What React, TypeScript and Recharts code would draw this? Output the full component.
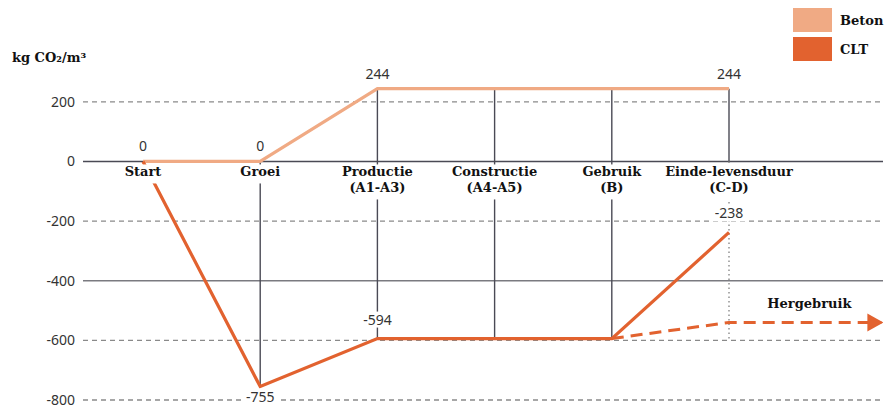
import { LineChart, Line, XAxis, YAxis, CartesianGrid, ReferenceLine, LabelList } from 'recharts';

// life-cycle stages along the horizontal axis
const stages = ['Start', 'Groei', 'Productie', 'Constructie', 'Gebruik', 'Einde-levensduur'];
const stageCodes = ['', '', '(A1-A3)', '(A4-A5)', '(B)', '(C-D)'];

// kg CO2 per m3 at each stage
const betonValues = [0, 0, 244, 244, 244, 244];
const cltValues = [0, -755, -594, -594, -594, -238];

// stages where the value is printed
const betonLabelled = [0, 1, 2, 5];
const cltLabelled = [1, 2, 5];

// reuse scenario: branches off after Gebruik and runs out past the last stage
const reuseSteps = [4, 5, 6.3];
const reuseValues = [-594, -540, -540];

const yTicks = [200, 0, -200, -400, -600, -800];
// dashed guides; 0 and -400 get solid rules instead
const dashedTicks = [200, -200, -600, -800];

const BETON = '#F0AA84';
const CLT = '#E2622F';
const INK = '#333333';
const RULE = '#4a4a55';
const SLAB = "'DejaVu Serif', serif";
const SANS = "'Noto Sans', sans-serif";

const series = [
  { name: 'Beton', color: BETON },
  { name: 'CLT', color: CLT },
];

const stageData = stages.map((name, i) => ({ x: i, base: 0, name }));
const betonData = stages.map((_, i) => ({ x: i, beton: betonValues[i] }));
const cltData = stages.map((_, i) => ({ x: i, clt: cltValues[i] }));
const reuseData = reuseSteps.map((x, i) => ({ x, reuse: reuseValues[i] }));

function valueTag(x: number, y: number, text: string, key?: string) {
  const w = text.length * 8.2 + 4;
  return (
    <g key={key}>
      <rect x={x - w / 2} y={y - 13} width={w} height={16} fill="#fff" />
      <text x={x} y={y} textAnchor="middle" fontFamily={SANS} fontSize={14} fill={INK}>
        {text}
      </text>
    </g>
  );
}

const renderStage = (props: any) => {
  const { x, y, index } = props;
  const lines = stageCodes[index] ? [stages[index], stageCodes[index]] : [stages[index]];
  const w = Math.max(...lines.map((t) => t.length)) * 8.6 + 4;
  return (
    <g>
      <rect x={x - w / 2} y={y + 3} width={w} height={lines.length * 16 + 3} fill="#fff" />
      {lines.map((t, k) => (
        <text key={k} x={x} y={y + 15 + k * 16} textAnchor="middle" fontFamily={SLAB} fontWeight="bold" fontSize={13} fill="#111">
          {t}
        </text>
      ))}
    </g>
  );
};

const renderBetonValue = (props: any) => {
  const { x, y, index } = props;
  if (!betonLabelled.includes(index)) return <g />;
  return valueTag(x, y - 10, String(betonValues[index]));
};

const renderCltValue = (props: any) => {
  const { x, y, index } = props;
  if (!cltLabelled.includes(index)) return <g />;
  const below = cltValues[index] < cltValues[index - 1] && cltValues[index] < cltValues[index + 1];
  return valueTag(x, below ? y + 15 : y - 14, String(cltValues[index]));
};

const renderReuseLabel = (props: any) => {
  const { x, y, index } = props;
  if (index !== reuseSteps.length - 1) return <g />;
  return (
    <text x={x - 72} y={y - 14} textAnchor="middle" fontFamily={SLAB} fontWeight="bold" fontSize={13} fill="#111">
      Hergebruik
    </text>
  );
};

const renderArrow = (props: any) => {
  const { cx, cy, index } = props;
  if (index !== reuseSteps.length - 1) return <g key={`a${index}`} />;
  return <polygon key="arrow" points={`${cx + 2},${cy} ${cx - 14},${cy - 9} ${cx - 14},${cy + 9}`} fill={CLT} />;
};

export default function App() {
  return (
    <div style={{ position: 'absolute', left: 0, top: 0, width: 885, height: 412, background: '#fff' }}>
      <div style={{ position: 'absolute', left: 12, top: 50, fontFamily: SLAB, fontWeight: 'bold', fontSize: 13, color: '#111' }}>
        kg CO₂/m³
      </div>
      <div style={{ position: 'absolute', left: 793, top: 8 }}>
        {series.map((s) => (
          <div key={s.name} style={{ display: 'flex', alignItems: 'center', height: 24, marginBottom: 5 }}>
            <div style={{ width: 39, height: 24, background: s.color }} />
            <span style={{ marginLeft: 8, fontFamily: SLAB, fontWeight: 'bold', fontSize: 13, color: '#111' }}>{s.name}</span>
          </div>
        ))}
      </div>
      <LineChart width={885} height={412} margin={{ top: 72, right: 2, bottom: 12, left: 0 }}>
        <CartesianGrid vertical={false} horizontalValues={dashedTicks} stroke="#8a8a8a" strokeDasharray="5 4" strokeWidth={1.3} />
        <XAxis dataKey="x" type="number" domain={[-0.512, 6.314]} allowDataOverflow hide />
        <YAxis
          type="number"
          domain={[-800, 300]}
          ticks={yTicks}
          width={83}
          axisLine={false}
          tickLine={false}
          tick={{ fill: INK, fontSize: 14, fontFamily: SANS }}
        />
        <ReferenceLine y={0} stroke={RULE} strokeWidth={1.6} />
        <ReferenceLine y={-400} stroke="#7a7a80" strokeWidth={1.4} />
        {stages.map((s, i) =>
          i === 0 ? null : (
            <ReferenceLine
              key={s}
              segment={[
                { x: i, y: betonValues[i] },
                { x: i, y: i === stages.length - 1 ? 0 : cltValues[i] },
              ]}
              stroke={RULE}
              strokeWidth={1.4}
            />
          )
        )}
        <ReferenceLine
          segment={[
            { x: stages.length - 1, y: 0 },
            { x: stages.length - 1, y: reuseValues[0] },
          ]}
          stroke="#8a8a8a"
          strokeWidth={1.4}
          strokeDasharray="1.5 3"
        />
        <Line data={betonData} dataKey="beton" type="linear" stroke={BETON} strokeWidth={3.2} dot={false} activeDot={false} isAnimationActive={false}>
          <LabelList dataKey="beton" content={renderBetonValue} />
        </Line>
        <Line data={reuseData} dataKey="reuse" type="linear" stroke={CLT} strokeWidth={3} strokeDasharray="12 7" dot={renderArrow} activeDot={false} isAnimationActive={false}>
          <LabelList dataKey="reuse" content={renderReuseLabel} />
        </Line>
        <Line data={cltData} dataKey="clt" type="linear" stroke={CLT} strokeWidth={3.2} dot={false} activeDot={false} isAnimationActive={false}>
          <LabelList dataKey="clt" content={renderCltValue} />
        </Line>
        <Line data={stageData} dataKey="base" stroke="none" dot={false} activeDot={false} legendType="none" isAnimationActive={false}>
          <LabelList dataKey="name" content={renderStage} />
        </Line>
      </LineChart>
    </div>
  );
}
